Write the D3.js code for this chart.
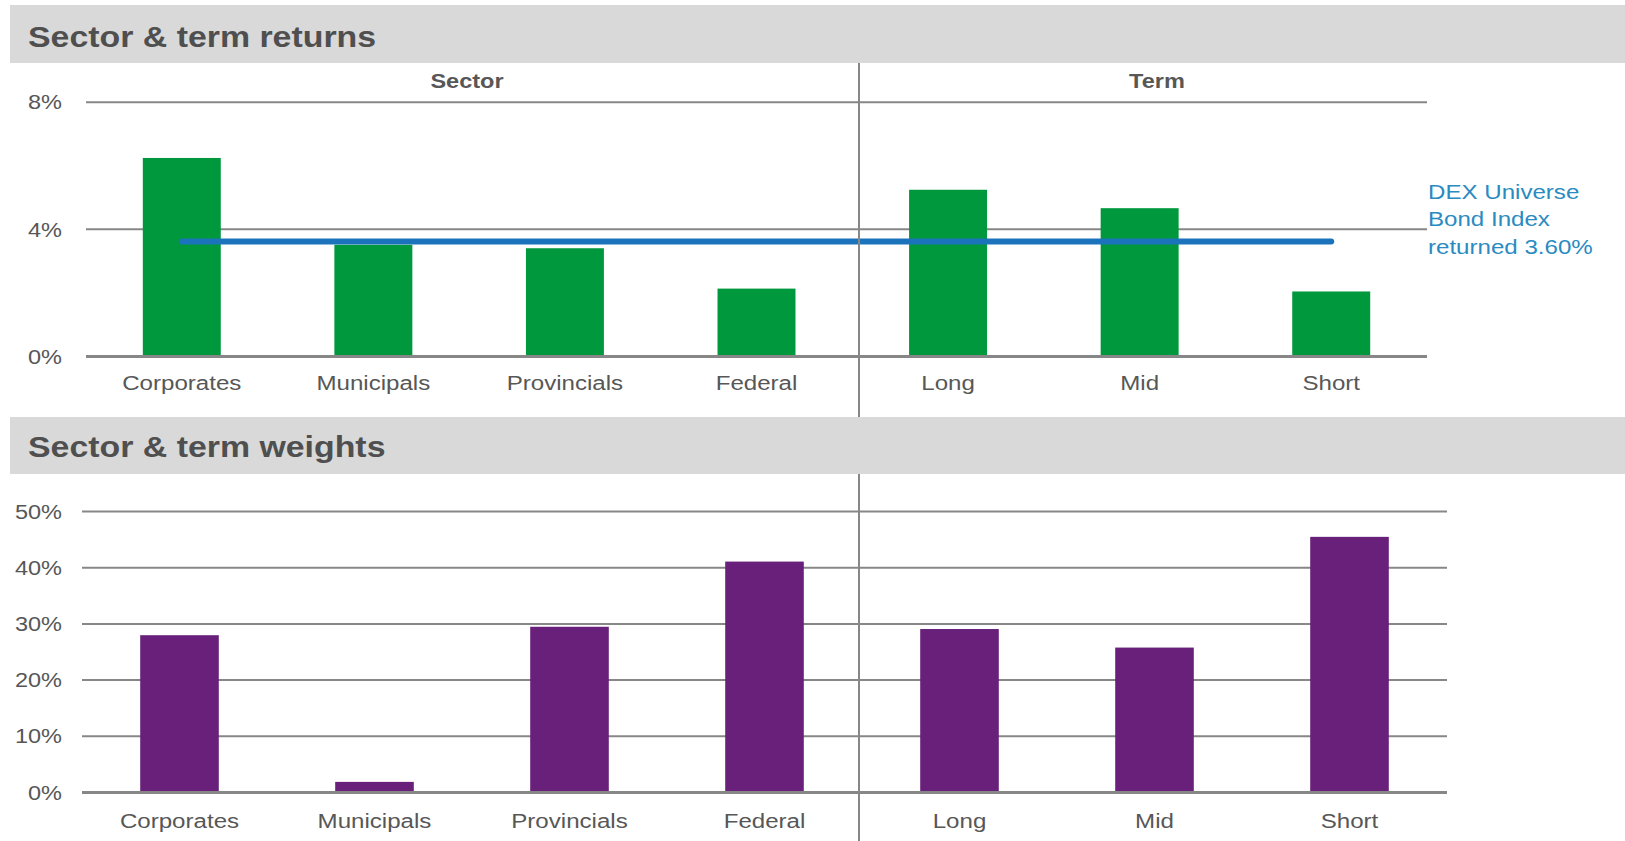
<!DOCTYPE html>
<html>
<head>
<meta charset="utf-8">
<script src="https://cdn.jsdelivr.net/npm/d3@7/dist/d3.min.js"></script>
<style>
  html, body { margin: 0; padding: 0; background: #fff; }
  svg { display: block; }
  text { font-family: "Liberation Sans", Arial, Helvetica, sans-serif; }
</style>
</head>
<body>
<svg id="chart" width="1625" height="841"></svg>
<script>
// ---- data ----
const categories = ["Corporates", "Municipals", "Provincials", "Federal", "Long", "Mid", "Short"];
const returnsPct = [6.23, 3.50, 3.39, 2.12, 5.23, 4.65, 2.03];
const weightsPct = [27.9, 1.8, 29.4, 41.0, 29.0, 25.7, 45.4];
const indexReturnPct = 3.60;
const returnTicks = [0, 4, 8];
const weightTicks = [0, 10, 20, 30, 40, 50];
const groupLabels = ["Sector", "Term"];
const panelTitles = ["Sector & term returns", "Sector & term weights"];
const indexLabelLines = ["DEX Universe", "Bond Index", "returned 3.60%"];

// ---- styling ----
const W = 1625, H = 841;
const SX = 1.148;               // horizontal text stretch
const textGrey = "#575757";
const gridGrey = "#878787";
const green = "#00983d";
const purple = "#68207a";
const blueLine = "#1b74bb";
const blueText = "#2a8bc1";
const dividerX = 859;

const svg = d3.select("#chart");
svg.append("rect").attr("width", W).attr("height", H).attr("fill", "#fff");

function header(y0, y1, title, baseline) {
  svg.append("rect").attr("x", 10).attr("y", y0).attr("width", W - 10).attr("height", y1 - y0)
    .attr("fill", "#d9d9d9");
  svg.append("text")
    .attr("transform", `translate(28,${baseline}) scale(${SX},1)`)
    .attr("font-size", 29.5).attr("font-weight", "bold").attr("fill", "#4f4f4f")
    .text(title);
}

function panel(opts) {
  const { values, ticks, yDomain, yRange, xRange, color, pad, labelBaseline, tickFmt } = opts;
  const x = d3.scaleBand().domain(categories).range(xRange)
    .paddingInner(opts.padInner).paddingOuter(opts.padInner / 2);
  const y = d3.scaleLinear().domain(yDomain).range(yRange);
  const g = svg.append("g");

  // gridlines + value labels
  const yAxis = g.append("g").attr("transform", `translate(${xRange[0]},0)`)
    .call(d3.axisLeft(y).tickValues(ticks).tickFormat(tickFmt)
      .tickSize(-(xRange[1] - xRange[0])).tickPadding(pad));
  yAxis.select(".domain").remove();
  yAxis.selectAll(".tick line")
    .attr("stroke", gridGrey)
    .attr("stroke-width", d => d === 0 ? 3 : 2);
  yAxis.selectAll(".tick text")
    .attr("x", 0).attr("dy", "0.35em")
    .attr("transform", `translate(${-pad},0) scale(${SX},1)`)
    .attr("font-size", 20.5).attr("fill", textGrey);

  // bars
  g.append("g").selectAll("rect")
    .data(categories.map((c, i) => ({ c, v: values[i] })))
    .join("rect")
    .attr("x", d => x(d.c))
    .attr("width", x.bandwidth())
    .attr("y", d => y(d.v))
    .attr("height", d => y(0) - y(d.v) - 1)
    .attr("fill", color);

  // category labels
  const xAxis = g.append("g").attr("transform", `translate(0,${y(0)})`)
    .call(d3.axisBottom(x).tickSize(0));
  xAxis.select(".domain").remove();
  xAxis.selectAll(".tick text")
    .attr("y", 0).attr("dy", 0)
    .attr("transform", `translate(0,${labelBaseline - y(0)}) scale(${SX},1)`)
    .attr("font-size", 21).attr("fill", textGrey);

  return { x, y, g };
}

// ---- top panel: returns ----
header(5, 63, panelTitles[0], 47);
const returnsPanel = panel({
  values: returnsPct, ticks: returnTicks, yDomain: [0, 8], yRange: [356, 101.7],
  xRange: [86, 1427], padInner: 0.593, color: green, pad: 24, labelBaseline: 390,
  tickFmt: d => d + "%"
});

// index return line
returnsPanel.g.append("line")
  .attr("x1", returnsPanel.x(categories[0]) + returnsPanel.x.bandwidth() / 2)
  .attr("x2", returnsPanel.x(categories[categories.length - 1]) + returnsPanel.x.bandwidth() / 2)
  .attr("y1", returnsPanel.y(indexReturnPct)).attr("y2", returnsPanel.y(indexReturnPct))
  .attr("stroke", blueLine).attr("stroke-width", 6).attr("stroke-linecap", "round");

const idxY = returnsPanel.y(indexReturnPct);
returnsPanel.g.append("g").selectAll("text").data(indexLabelLines).join("text")
  .attr("transform", (d, i) => `translate(1428,${idxY - 43 + i * 27.5}) scale(${SX},1)`)
  .attr("font-size", 21).attr("fill", blueText)
  .text(d => d);

// group labels
const groupX = [467, 1157];
svg.append("g").selectAll("text").data(groupLabels).join("text")
  .attr("transform", (d, i) => `translate(${groupX[i]},88) scale(${SX},1)`)
  .attr("text-anchor", "middle").attr("font-size", 20.5).attr("font-weight", "bold")
  .attr("fill", textGrey)
  .text(d => d);

// divider
svg.append("line").attr("x1", dividerX).attr("x2", dividerX).attr("y1", 63).attr("y2", 417)
  .attr("stroke", gridGrey).attr("stroke-width", 2);

// ---- bottom panel: weights ----
header(417, 474, panelTitles[1], 457);
panel({
  values: weightsPct, ticks: weightTicks, yDomain: [0, 50], yRange: [792, 511],
  xRange: [82, 1447], padInner: 0.597, color: purple, pad: 20, labelBaseline: 828,
  tickFmt: d => d + "%"
});
svg.append("line").attr("x1", dividerX).attr("x2", dividerX).attr("y1", 474).attr("y2", 841)
  .attr("stroke", gridGrey).attr("stroke-width", 2);
</script>
</body>
</html>
